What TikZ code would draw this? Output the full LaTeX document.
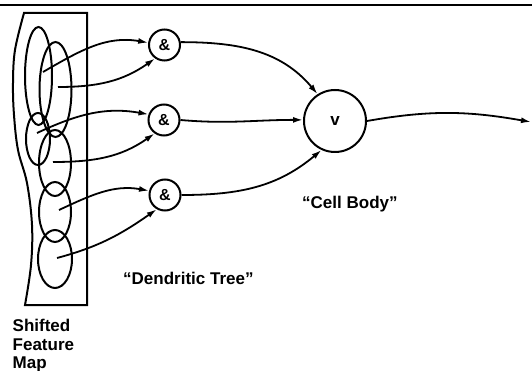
\documentclass[tikz,border=0pt]{standalone}
\usepackage{fontspec}
\setmainfont{Liberation Sans}
\usetikzlibrary{arrows.meta}
\tikzset{
  gate/.style={circle, draw, line width=2pt, minimum size=31pt, inner sep=0pt, font=\bfseries\fontsize{16}{18}\selectfont},
  soma/.style={circle, draw, line width=2pt, minimum size=62pt, inner sep=0pt, font=\bfseries\fontsize{17}{19}\selectfont},
  wire/.style={line width=1.8pt, -{Latex[length=10pt,width=6pt]}},
  field/.style={line width=2pt},
  lbl/.style={inner sep=0pt, font=\bfseries\fontsize{17}{18.5}\selectfont},
}
\begin{document}
\begin{tikzpicture}[x=1pt,y=-1pt]
\useasboundingbox (0,0) rectangle (532,371);
% top rule
\draw[line width=2.4pt] (0,5) -- (532,5);
% frame of the feature map
\draw[field] plot[smooth, tension=0.6] coordinates {(24,13) (15,50) (13,83) (14,115) (18,150) (27,183) (32,225) (31,265) (25,305)} -- (87,305) -- (87,13) -- cycle;
% receptive fields
\draw[field] (38.5,76) ellipse [x radius=13.5, y radius=49];
\draw[field] (55.5,89.5) ellipse [x radius=16, y radius=47.5];
\draw[field] (38,139) ellipse [x radius=12, y radius=26];
\draw[field] (55,163) ellipse [x radius=16, y radius=33];
\draw[field] (55,212) ellipse [x radius=16, y radius=30];
\draw[field] (55,259) ellipse [x radius=17, y radius=29];
% sources
\coordinate (s1) at (43,72);
\coordinate (s2) at (58,87);
\coordinate (s3) at (37,133);
\coordinate (s4) at (53,162);
\coordinate (s5) at (59,210);
\coordinate (s6) at (57,258);
% AND gates
\node[gate] (n1) at (164.5,45) {\&};
\node[gate] (n2) at (164,120) {\&};
\node[gate] (n3) at (165,195) {\&};
% cell body
\node[soma] (v) at (335,121) {v};
\coordinate (out) at (531,122);
% dendrites
\draw[wire] (s1) to[out=30,in=170] (n1.172);
\draw[wire] (s2) to[out=0,in=215] (n1.235);
\draw[wire] (s3) to[out=25,in=170] (n2.160);
\draw[wire] (s4) to[out=0,in=215] (n2.235);
\draw[wire] (s5) to[out=25,in=170] (n3.165);
\draw[wire] (s6) to[out=15,in=215] (n3.240);
\draw[wire] (n1.10) to[out=0,in=130] (v.123);
\draw[wire] (n2.east) to[out=-5,in=180] (v.178);
\draw[wire] (n3.east) to[out=0,in=220] (v.245);
\draw[wire] (v.east) to[out=10,in=170] (out);
% labels
\node[lbl, anchor=base west] (tree) at (123,284) {“Dendritic Tree”};
\node[lbl, anchor=base west] (body) at (302,209) {“Cell Body”};
\node[lbl, anchor=north west, align=left] (map) at (12.5,319) {Shifted\\Feature\\Map};
\end{tikzpicture}
\end{document}
